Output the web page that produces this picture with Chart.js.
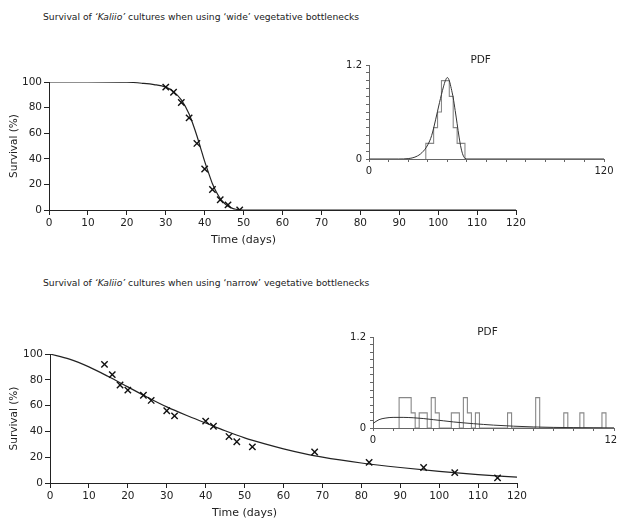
<!DOCTYPE html>
<html>
<head>
<meta charset="utf-8">
<script src="https://cdn.jsdelivr.net/npm/chart.js@4/dist/chart.umd.min.js"></script>
<style>
  html, body { margin: 0; padding: 0; background: #fff; width: 617px; height: 520px; overflow: hidden; }
  canvas { position: absolute; }
  .ttl { position: absolute; left: 43px; font: 9.2px/12px "DejaVu Sans", sans-serif; color: #222; white-space: nowrap; }
</style>
</head>
<body>
<div class="ttl" style="top:11px">Survival of <i>‘Kaliio’</i> cultures when using ‘wide’ vegetative bottlenecks</div>
<div class="ttl" style="top:277px">Survival of <i>‘Kaliio’</i> cultures when using ‘narrow’ vegetative bottlenecks</div>

<canvas id="wideMain" width="545" height="200" style="left:0;top:60px"></canvas>
<canvas id="wideInset" width="290" height="145" style="left:330px;top:40px"></canvas>
<canvas id="narrowMain" width="545" height="190" style="left:0;top:330px"></canvas>
<canvas id="narrowInset" width="305" height="145" style="left:335px;top:310px"></canvas>

<script>
// 'wide' bottlenecks - observed survival
const wideDays = [30, 32, 34, 36, 38, 40, 42, 44, 46, 49];
const wideSurvival = [96, 92, 84, 72, 52, 32, 16, 8, 4, 0];
// fitted survival curve
const wideFitDays = [0, 10, 20, 24, 27, 30, 32, 34, 36, 37, 38, 39, 40, 41, 42, 43, 44, 45, 46, 47, 48, 50, 60, 120];
const wideFitSurvival = [100, 100, 99.8, 99, 98, 96, 92.5, 86, 75, 67, 58, 48, 38, 29, 20.5, 14, 9, 5.5, 3, 1.5, 0.6, 0, 0, 0];
// PDF inset: 2-day bins
const wideBinCentres = [30, 32, 34, 36, 38, 40, 42, 44, 46, 48];
const wideBinHeights = [0.2, 0.2, 0.4, 0.6, 1.0, 1.0, 0.8, 0.4, 0.2, 0.2];
const widePdfDays = [0, 15, 20, 24, 27, 30, 32, 34, 36, 38, 39, 40, 41, 42, 43, 44, 45, 46, 47, 48, 49, 50, 120];
const widePdfValues = [0, 0, 0.005, 0.03, 0.08, 0.18, 0.3, 0.5, 0.72, 0.92, 1.0, 1.04, 1.0, 0.9, 0.78, 0.62, 0.45, 0.28, 0.14, 0.05, 0.01, 0, 0];

// 'narrow' bottlenecks - observed survival
const narrowDays = [14, 16, 18, 20, 24, 26, 30, 32, 40, 42, 46, 48, 52, 68, 82, 96, 104, 115];
const narrowSurvival = [92, 84, 76, 72, 68, 64, 56, 52, 48, 44, 36, 32, 28, 24, 16, 12, 8, 4];
const narrowFitDays = [0, 5, 10, 15, 20, 25, 30, 35, 40, 45, 50, 55, 60, 65, 70, 80, 90, 100, 110, 120];
const narrowFitSurvival = [100, 96, 90, 82.5, 74.5, 66.5, 59, 52.5, 46.5, 40.5, 35, 30.5, 26.5, 23, 20, 15.5, 12, 9, 6.5, 4.5];
const narrowBinCentres = [14, 16, 18, 20, 24, 26, 30, 32, 40, 42, 46, 48, 52, 68, 82, 96, 104, 115];
const narrowBinHeights = [0.4, 0.4, 0.4, 0.2, 0.2, 0.2, 0.4, 0.2, 0.2, 0.2, 0.4, 0.2, 0.2, 0.2, 0.4, 0.2, 0.2, 0.2];
const narrowPdfDays = [0, 3, 6, 10, 15, 20, 25, 30, 35, 40, 45, 50, 55, 60, 70, 80, 90, 100, 110, 120];
const narrowPdfValues = [0.06, 0.11, 0.13, 0.14, 0.14, 0.135, 0.125, 0.11, 0.095, 0.08, 0.068, 0.057, 0.047, 0.038, 0.024, 0.014, 0.008, 0.005, 0.003, 0.002];

const binWidth = 2;
const insetTickLabels = [0, 120];
const insetYLabels = [0, 1.2];

const FONT = '"DejaVu Sans", sans-serif';
const INK = '#222';

function pts(xs, ys) {
  return xs.map((x, i) => ({ x: x, y: ys[i] }));
}

// histogram outline: corners of each bin, dropping to 0 between separate bins
function histOutline(centres, heights) {
  const out = [];
  const half = binWidth / 2;
  centres.forEach((c, i) => {
    const joinedPrev = i > 0 && centres[i - 1] + binWidth === c;
    const joinedNext = i < centres.length - 1 && centres[i + 1] - binWidth === c;
    if (!joinedPrev) out.push({ x: c - half, y: 0 });
    out.push({ x: c - half, y: heights[i] });
    out.push({ x: c + half, y: heights[i] });
    if (!joinedNext) out.push({ x: c + half, y: 0 });
  });
  return out;
}

// draws free text placed by data value on the x scale (axis title, "PDF")
const freeText = {
  id: 'freeText',
  afterDraw(chart, args, opts) {
    const ctx = chart.ctx;
    const area = chart.chartArea;
    (opts.items || []).forEach(it => {
      ctx.save();
      ctx.font = it.font;
      ctx.fillStyle = INK;
      ctx.textAlign = 'center';
      ctx.textBaseline = 'middle';
      const y = it.fromBottom != null ? area.bottom + it.fromBottom : area.top - it.fromTop;
      ctx.fillText(it.text, chart.scales.x.getPixelForValue(it.xValue), y);
      ctx.restore();
    });
  }
};

function mainChart(id, days, surv, fitDays, fitSurv, g) {
  return new Chart(document.getElementById(id), {
    type: 'scatter',
    data: {
      datasets: [
        {
          type: 'line',
          data: pts(fitDays, fitSurv),
          borderColor: INK,
          borderWidth: 1.2,
          pointRadius: 0,
          cubicInterpolationMode: 'monotone',
          fill: false,
          order: 2
        },
        {
          data: pts(days, surv),
          pointStyle: 'crossRot',
          pointRadius: 4.5,
          borderColor: '#111',
          backgroundColor: '#111',
          borderWidth: 1.4,
          order: 1
        }
      ]
    },
    options: {
      responsive: false,
      animation: false,
      layout: { padding: { top: g.top, right: g.right, left: 0, bottom: 0 } },
      plugins: {
        legend: { display: false },
        tooltip: { enabled: false },
        freeText: { items: [{ text: 'Time (days)', xValue: 50, fromBottom: 30, font: '11px ' + FONT }] }
      },
      scales: {
        x: {
          type: 'linear', min: 0, max: 120,
          ticks: { stepSize: 10, autoSkip: false, maxRotation: 0, padding: 2, color: INK, font: { family: FONT, size: 10.5 } },
          grid: { drawOnChartArea: false, tickLength: 5, color: INK },
          border: { color: INK, width: 1 },
          afterFit: s => { s.height = g.xh; }
        },
        y: {
          min: 0, max: 100,
          ticks: { stepSize: 20, autoSkip: false, padding: 2, color: INK, font: { family: FONT, size: 10.5 } },
          grid: { drawOnChartArea: false, tickLength: 5, color: INK },
          border: { color: INK, width: 1 },
          title: { display: true, text: 'Survival (%)', color: INK, font: { family: FONT, size: 10.5 }, padding: { top: 8 } },
          afterFit: s => { s.width = g.yw; }
        }
      }
    },
    plugins: [freeText]
  });
}

function insetChart(id, centres, heights, pdfDays, pdfVals, g) {
  return new Chart(document.getElementById(id), {
    type: 'scatter',
    data: {
      datasets: [
        {
          type: 'line',
          data: pts(pdfDays, pdfVals),
          borderColor: '#333',
          borderWidth: 1,
          pointRadius: 0,
          cubicInterpolationMode: 'monotone',
          fill: false,
          order: 1
        },
        {
          type: 'line',
          data: histOutline(centres, heights),
          borderColor: '#888',
          borderWidth: 1.1,
          pointRadius: 0,
          tension: 0,
          fill: false,
          order: 2
        }
      ]
    },
    options: {
      responsive: false,
      animation: false,
      layout: { padding: { top: g.top, right: g.right, left: 0, bottom: 0 } },
      plugins: {
        legend: { display: false },
        tooltip: { enabled: false },
        freeText: { items: [{ text: 'PDF', xValue: 57, fromTop: 5, font: '10.5px ' + FONT }] }
      },
      scales: {
        x: {
          type: 'linear', min: 0, max: 120,
          ticks: {
            stepSize: 10, autoSkip: false, maxRotation: 0, padding: 3, color: INK,
            font: { family: FONT, size: 10 },
            callback: v => insetTickLabels.includes(v) ? String(v) : ''
          },
          grid: { drawOnChartArea: false, tickLength: 3, color: '#666' },
          border: { color: '#666', width: 1 },
          afterFit: s => { s.height = g.xh; }
        },
        y: {
          min: 0, max: 1.2,
          ticks: {
            stepSize: 0.1, autoSkip: false, padding: 4, color: INK,
            font: { family: FONT, size: 10 },
            callback: v => {
              const hit = insetYLabels.find(l => Math.abs(l - v) < 1e-9);
              return hit !== undefined ? String(hit) : '';
            }
          },
          grid: { drawOnChartArea: false, tickLength: 3, color: '#666' },
          border: { color: '#666', width: 1 },
          afterFit: s => { s.width = g.yw; }
        }
      }
    },
    plugins: [freeText]
  });
}

mainChart('wideMain', wideDays, wideSurvival, wideFitDays, wideFitSurvival, { top: 22, right: 29, yw: 49, xh: 50 });
insetChart('wideInset', wideBinCentres, wideBinHeights, widePdfDays, widePdfValues, { top: 25, right: 16, yw: 39, xh: 26 });
mainChart('narrowMain', narrowDays, narrowSurvival, narrowFitDays, narrowFitSurvival, { top: 24, right: 28, yw: 50, xh: 37 });
insetChart('narrowInset', narrowBinCentres, narrowBinHeights, narrowPdfDays, narrowPdfValues, { top: 27, right: 26, yw: 38, xh: 27 });
</script>
</body>
</html>
